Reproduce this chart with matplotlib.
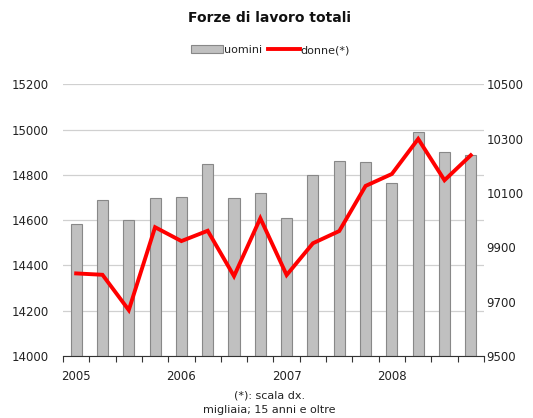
import matplotlib
matplotlib.use("Agg")
import matplotlib.pyplot as plt
import numpy as np

# quarterly data 2005Q1 - 2008Q4
quarters = ["2005", "", "", "", "2006", "", "", "", "2007", "", "", "", "2008", "", "", ""]
uomini = [14582, 14691, 14599, 14696, 14701, 14847, 14696, 14721,
          14608, 14798, 14860, 14858, 14763, 14988, 14903, 14888]
donne = [9804, 9799, 9669, 9974, 9923, 9961, 9794, 10007,
         9798, 9915, 9960, 10126, 10170, 10299, 10147, 10239]
left_ticks = [14000, 14200, 14400, 14600, 14800, 15000, 15200]
right_ticks = [9500, 9700, 9900, 10100, 10300, 10500]

plt.rcParams['font.family'] = ['DejaVu Sans']
txt = '#222222'

fig = plt.figure(figsize=(5.33, 4.18), dpi=100)
ax = fig.add_axes([0.1182, 0.1483, 0.7898, 0.6500])
x = np.arange(len(uomini))

bars = ax.bar(x, [u - left_ticks[0] for u in uomini], bottom=left_ticks[0], width=0.42,
              color='#c0c0c0', edgecolor='#888888', linewidth=0.8, zorder=2, label='uomini')
ax.set_ylim(left_ticks[0], left_ticks[-1])
ax.set_xlim(-0.5, len(uomini) - 0.5)
ax.set_yticks(left_ticks)
ax.yaxis.grid(True, color='#d0d0d0', linewidth=0.9, zorder=0)
ax.set_axisbelow(True)
ax.tick_params(axis='y', length=0, pad=10, labelsize=8.5, labelcolor=txt)

# categories labelled by year, ticks between quarters
ax.set_xticks(x)
ax.set_xticklabels(quarters)
ax.set_xticks(np.arange(-0.5, len(uomini)), minor=True)
ax.tick_params(axis='x', which='major', length=0, pad=10, labelsize=8.5, labelcolor=txt)
ax.tick_params(axis='x', which='minor', length=4, color='#333333', width=0.8)

for side in ["top", "right", "left"]:
    ax.spines[side].set_visible(False)
ax.spines["bottom"].set_color('#333333')

ax2 = ax.twinx()
line, = ax2.plot(x, donne, color='#ff0000', linewidth=2.8, zorder=3, label='donne(*)',
                 solid_joinstyle='miter')
ax2.set_ylim(right_ticks[0], right_ticks[-1])
ax2.set_yticks(right_ticks)
ax2.tick_params(axis='y', length=0, pad=2, labelsize=8.5, labelcolor=txt)
for side in ["top", "right", "left", "bottom"]:
    ax2.spines[side].set_visible(False)

fig.text(0.505, 0.957, "Forze di lavoro totali", ha='center', va='center',
         fontsize=10, fontweight='bold', color='#111111')
fig.legend([bars, line], ['uomini', 'donne(*)'], loc='center', bbox_to_anchor=(0.508, 0.880),
           ncol=2, frameon=False, fontsize=8, handlelength=2.8, handletextpad=0.1,
           columnspacing=0.6, labelcolor=txt)
fig.text(0.505, 0.053, "(*): scala dx.", ha='center', va='center', fontsize=8, color=txt)
fig.text(0.505, 0.019, "migliaia; 15 anni e oltre", ha='center', va='center', fontsize=8, color=txt)

fig.savefig("out.png", dpi=100)
